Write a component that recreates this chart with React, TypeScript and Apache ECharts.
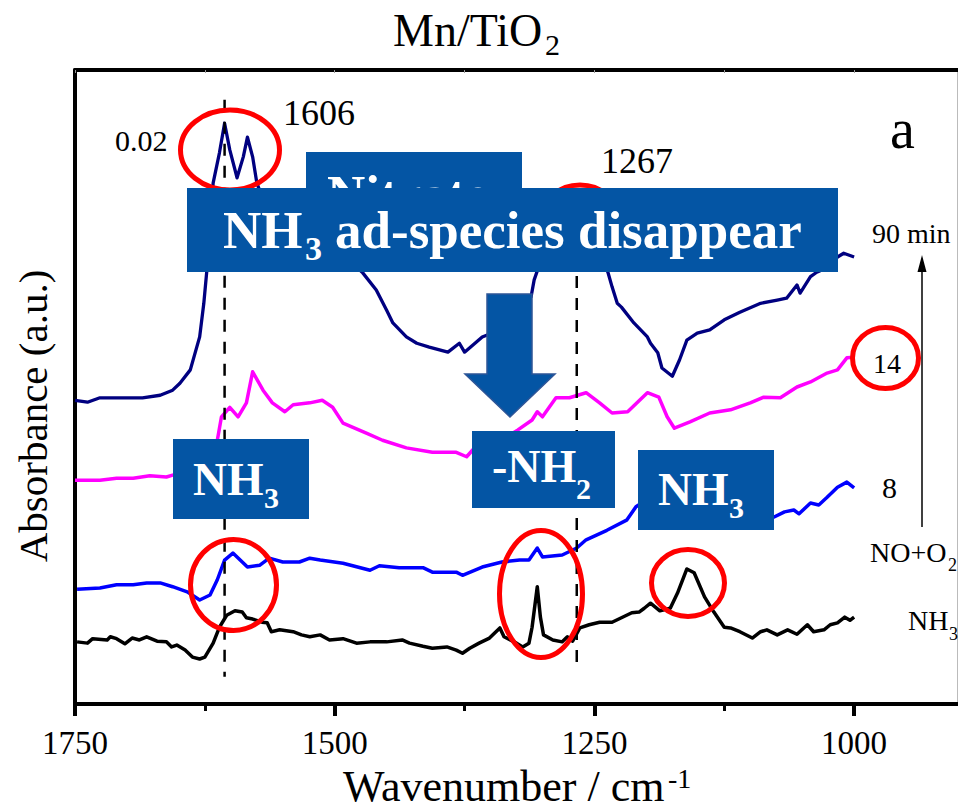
import React, { useEffect, useRef } from "react";
import * as echarts from "echarts";

const FONT = "Liberation Serif";
const BOX = "#0455a4";

// Wavenumber axis ticks (cm-1)
const majorTicks = [1000, 1250, 1500, 1750];
const minorTicks = [1125, 1375, 1625];
const topTicks = [1000, 1125, 1250, 1375, 1500, 1625, 1750];

// NH3 adsorbed spectrum
const nh3Wn = [1748, 1738, 1733, 1719, 1716, 1710, 1702, 1695, 1688, 1681, 1671, 1662, 1657, 1652, 1644, 1637, 1630, 1625, 1617, 1611, 1604, 1596, 1589, 1585, 1579, 1570, 1565, 1561, 1553, 1540, 1532, 1524, 1514, 1505, 1492, 1479, 1466, 1450, 1435, 1428, 1415, 1406, 1392, 1383, 1377, 1370, 1361, 1351, 1341, 1337, 1325, 1319, 1313, 1310, 1305, 1302, 1299, 1290, 1281, 1276, 1271, 1264, 1255, 1245, 1233, 1224, 1214, 1207, 1202, 1196, 1187, 1177, 1170, 1161, 1154, 1144, 1135, 1125, 1119, 1110, 1098, 1090, 1084, 1074, 1064, 1055, 1045, 1039, 1029, 1023, 1016, 1009, 1004, 1000];
const nh3Abs = [9.8, 9.6, 10.3, 10.1, 10.6, 10.3, 9.5, 10.4, 10.1, 10.6, 9.9, 9.8, 9.0, 9.3, 8.5, 7.4, 7.1, 7.4, 9.6, 12.1, 14.0, 14.7, 14.5, 13.6, 13.4, 12.9, 12.8, 11.4, 11.7, 11.4, 10.9, 10.6, 10.9, 10.1, 10.3, 9.6, 9.8, 9.8, 10.1, 9.6, 9.1, 8.8, 9.0, 8.5, 8.0, 8.8, 9.6, 10.4, 12.0, 10.6, 9.6, 9.0, 9.6, 12.1, 18.5, 13.7, 10.9, 10.1, 9.8, 10.6, 9.9, 12.0, 12.5, 12.9, 12.9, 13.6, 14.4, 14.5, 15.1, 15.9, 14.7, 15.1, 17.5, 21.3, 20.7, 16.9, 14.5, 12.1, 12.0, 11.4, 10.4, 11.4, 11.7, 10.9, 11.7, 11.0, 12.5, 11.4, 11.7, 12.5, 12.8, 13.7, 13.2, 13.7];

// NO+O2, 8 min
const min8Wn = [1748, 1726, 1710, 1694, 1681, 1668, 1656, 1642, 1630, 1620, 1613, 1606, 1598, 1591, 1584, 1572, 1563, 1550, 1534, 1524, 1514, 1492, 1466, 1457, 1438, 1415, 1406, 1383, 1377, 1358, 1339, 1322, 1313, 1305, 1300, 1281, 1267, 1258, 1238, 1219, 1210, 1197, 1178, 1159, 1139, 1111, 1091, 1077, 1067, 1058, 1053, 1042, 1034, 1026, 1016, 1007, 1000];
const min8Abs = [18.1, 18.3, 18.8, 18.8, 19.1, 19.1, 18.5, 17.7, 16.4, 17.2, 19.6, 22.7, 23.8, 22.7, 21.6, 21.9, 23.0, 22.4, 22.4, 23.0, 22.7, 22.2, 21.1, 21.8, 21.5, 21.5, 20.8, 20.8, 20.3, 21.6, 22.4, 22.7, 22.7, 24.6, 23.2, 23.5, 24.6, 25.9, 27.4, 29.0, 31.1, 32.5, 33.0, 32.2, 30.9, 29.8, 29.5, 29.5, 30.3, 30.6, 30.0, 31.7, 31.4, 32.6, 34.2, 35.0, 34.1];

// NO+O2, 14 min
const min14Wn = [1750, 1726, 1710, 1694, 1678, 1662, 1656, 1639, 1625, 1613, 1609, 1601, 1593, 1585, 1579, 1569, 1560, 1548, 1540, 1524, 1512, 1502, 1492, 1469, 1454, 1431, 1406, 1383, 1373, 1367, 1346, 1324, 1310, 1305, 1300, 1287, 1274, 1258, 1245, 1233, 1218, 1199, 1188, 1180, 1173, 1158, 1139, 1119, 1100, 1087, 1071, 1055, 1042, 1026, 1016, 1007, 1000];
const min14Abs = [35.3, 35.3, 35.6, 35.6, 36.0, 35.8, 36.1, 36.9, 39.3, 41.6, 45.3, 46.8, 45.3, 47.5, 52.4, 49.5, 47.5, 46.1, 47.2, 47.5, 47.9, 46.8, 44.3, 42.7, 41.6, 40.4, 39.7, 39.7, 39.0, 40.1, 40.9, 43.2, 44.8, 46.1, 45.3, 48.3, 48.3, 49.1, 47.5, 45.9, 46.1, 49.1, 48.4, 45.3, 43.5, 44.5, 45.9, 46.4, 47.5, 48.4, 48.3, 50.0, 50.8, 52.2, 52.7, 54.6, 54.7];

// NO+O2, 90 min
const min90Wn = [1750, 1738, 1726, 1700, 1685, 1668, 1656, 1649, 1639, 1630, 1626, 1623, 1617, 1611, 1606, 1601, 1594, 1588, 1584, 1579, 1575, 1567, 1553, 1534, 1505, 1486, 1473, 1460, 1450, 1444, 1431, 1421, 1409, 1391, 1380, 1375, 1358, 1341, 1327, 1311, 1308, 1298, 1284, 1269, 1255, 1245, 1237, 1233, 1228, 1224, 1212, 1199, 1196, 1189, 1185, 1175, 1168, 1161, 1151, 1139, 1125, 1110, 1090, 1074, 1065, 1055, 1052, 1042, 1036, 1026, 1016, 1010, 1000];
const min90Abs = [47.9, 47.6, 48.3, 48.3, 48.3, 48.7, 49.5, 50.6, 52.7, 57.9, 63.2, 68.5, 82.2, 86.9, 91.6, 87.4, 83.0, 86.3, 89.4, 86.3, 82.2, 78.7, 76.3, 74.4, 72.4, 70.0, 68.0, 65.3, 62.1, 60.1, 57.9, 56.9, 56.3, 55.5, 56.9, 55.5, 57.9, 59.0, 61.4, 64.2, 66.9, 71.6, 76.0, 77.9, 74.8, 70.8, 68.1, 65.8, 63.2, 62.6, 60.1, 57.9, 56.9, 55.4, 53.0, 51.7, 54.3, 57.4, 58.5, 59.0, 60.6, 61.8, 63.2, 63.7, 64.0, 66.1, 64.8, 67.4, 68.1, 68.8, 70.5, 71.1, 70.5];

// Reference band positions with the vertical extent of their dashed guides
const bandPositions = [1606, 1267];
const bandTop = [95.3, 81.4];
const bandBottom = [4.3, 5.7];

const pairs = (x: number[], y: number[]) => x.map((w, i) => [w, y[i]]);

const txt = (
  text: string,
  x: number,
  y: number,
  size: number,
  opts: { bold?: boolean; fill?: string; z?: number; align?: string; rotation?: number } = {}
) => ({
  type: "text",
  x,
  y,
  z: opts.z ?? 120,
  rotation: opts.rotation ?? 0,
  style: {
    text,
    fontSize: size,
    fontFamily: FONT,
    fontWeight: opts.bold ? "bold" : "normal",
    fill: opts.fill ?? "#000",
    textAlign: opts.align ?? "left",
    textVerticalAlign: "middle",
  },
});

const ring = (cx: number, cy: number, rx: number, ry: number) => ({
  type: "ellipse",
  z: 50,
  shape: { cx, cy, rx, ry },
  style: { fill: "none", stroke: "#ff0000", lineWidth: 5 },
});

const box = (x: number, y: number, width: number, height: number, z: number) => ({
  type: "rect",
  z,
  shape: { x, y, width, height },
  style: { fill: BOX },
});

export default function App() {
  const ref = useRef<HTMLDivElement>(null);

  useEffect(() => {
    if (!ref.current) return;
    const chart = echarts.init(ref.current, undefined, { renderer: "svg" });

    const spectrum = (name: string, x: number[], y: number[], color: string, width: number) => ({
      type: "line",
      name,
      data: pairs(x, y),
      symbol: "none",
      lineStyle: { color, width, join: "round" },
      z: 2,
    });

    const guides = bandPositions.map((w, i) => ({
      type: "line",
      name: `${w}`,
      data: [
        [w, bandTop[i]],
        [w, bandBottom[i]],
      ],
      symbol: "none",
      lineStyle: { color: "#000", width: 2.5, type: [12, 10] },
      z: 3,
    }));

    const xBase = { type: "value", min: 900, max: 1750, inverse: true, splitLine: { show: false } };

    chart.setOption({
      animation: false,
      backgroundColor: "#fff",
      textStyle: { fontFamily: FONT },
      grid: { left: 75, right: 0, top: 70, bottom: 105 },
      xAxis: [
        {
          ...xBase,
          position: "bottom",
          axisLine: { onZero: false, lineStyle: { color: "#000", width: 4 } },
          axisTick: { customValues: majorTicks, length: 12, lineStyle: { color: "#000", width: 4 } },
          axisLabel: {
            customValues: majorTicks,
            formatter: (v: number) => String(v),
            fontSize: 33,
            fontFamily: FONT,
            color: "#000",
            margin: 22,
          },
        },
        {
          ...xBase,
          position: "bottom",
          axisLine: { show: false, onZero: false },
          axisTick: { customValues: minorTicks, length: 7, lineStyle: { color: "#000", width: 3 } },
          axisLabel: { show: false },
        },
        {
          ...xBase,
          position: "top",
          axisLine: { onZero: false, lineStyle: { color: "#000", width: 4 } },
          axisTick: { inside: true, customValues: topTicks, length: 3, lineStyle: { color: "#999", width: 1 } },
          axisLabel: { show: false },
        },
      ],
      yAxis: [
        {
          type: "value",
          min: 0,
          max: 100,
          axisLine: { show: true, lineStyle: { color: "#000", width: 4 } },
          axisTick: { show: false },
          axisLabel: { show: false },
          splitLine: { show: false },
        },
        {
          type: "value",
          position: "right",
          min: 0,
          max: 100,
          axisLine: { show: true, lineStyle: { color: "#bbb", width: 2 } },
          axisTick: { show: false },
          axisLabel: { show: false },
          splitLine: { show: false },
        },
      ],
      series: [
        spectrum("NH3", nh3Wn, nh3Abs, "#000000", 3.5),
        spectrum("8 min", min8Wn, min8Abs, "#0000ff", 3.5),
        spectrum("14 min", min14Wn, min14Abs, "#ff00ff", 3.5),
        spectrum("90 min", min90Wn, min90Abs, "#000080", 3.3),
        ...guides,
      ],
      graphic: [
        // title and axis titles
        txt("Mn/TiO", 393, 30, 46),
        txt("2", 545, 44, 30),
        txt("Absorbance (a.u.)", 33, 416, 41, { align: "center", rotation: Math.PI / 2 }),
        txt("Wavenumber / cm", 343, 786, 44),
        txt("-1", 668, 778, 28),
        // band labels
        txt("1606", 283, 113, 36),
        txt("0.02", 115, 140, 30),
        txt("1267", 601, 161, 36),
        txt("a", 890, 129, 56),
        // time labels and arrow
        txt("90 min", 872, 233, 28),
        txt("14", 873, 363, 28),
        txt("8", 882, 487, 30),
        txt("NO+O", 870, 552, 28),
        txt("2", 948, 565, 18),
        txt("NH", 908, 620, 28),
        txt("3", 949, 634, 18),
        {
          type: "line",
          z: 60,
          shape: { x1: 922, y1: 268, x2: 922, y2: 527 },
          style: { stroke: "#000", lineWidth: 1.5 },
        },
        {
          type: "polygon",
          z: 60,
          shape: { points: [[922, 255], [917.5, 272], [926.5, 272]] },
          style: { fill: "#000" },
        },
        // highlighted bands
        ring(230, 150, 49.5, 40),
        ring(580, 218, 38, 33),
        ring(233.5, 585, 43, 45.5),
        ring(541, 594, 41.5, 63.5),
        ring(688, 583, 36.5, 33.5),
        ring(885.5, 358, 33, 30.5),
        // annotation boxes
        box(306, 152, 216, 110, 100),
        txt("Nitrate", 327, 194, 53, { bold: true, fill: "#fff", z: 101 }),
        box(187, 188, 651, 84, 110),
        txt("NH", 223, 230, 53, { bold: true, fill: "#fff", z: 111 }),
        txt("3", 305, 248, 34, { bold: true, fill: "#fff", z: 111 }),
        txt("ad-species disappear", 335, 230, 53, { bold: true, fill: "#fff", z: 111 }),
        {
          type: "polygon",
          z: 100,
          shape: {
            points: [[487, 294], [532, 294], [532, 374], [555, 374], [510, 417], [465, 374], [487, 374]],
          },
          style: { fill: BOX, stroke: "#2e5597", lineWidth: 1.5 },
        },
        box(173, 439, 136, 80, 100),
        txt("NH", 193, 479, 47, { bold: true, fill: "#fff", z: 101 }),
        txt("3", 264, 497, 30, { bold: true, fill: "#fff", z: 101 }),
        box(472, 431, 143, 77, 100),
        txt("-NH", 492, 466, 46, { bold: true, fill: "#fff", z: 101 }),
        txt("2", 576, 488, 30, { bold: true, fill: "#fff", z: 101 }),
        box(638, 450, 136, 80, 100),
        txt("NH", 658, 489, 47, { bold: true, fill: "#fff", z: 101 }),
        txt("3", 729, 507, 30, { bold: true, fill: "#fff", z: 101 }),
      ],
    });

    return () => chart.dispose();
  }, []);

  return (
    <div
      ref={ref}
      style={{ position: "fixed", left: 0, top: 0, width: 958, height: 809, background: "#fff" }}
    />
  );
}
